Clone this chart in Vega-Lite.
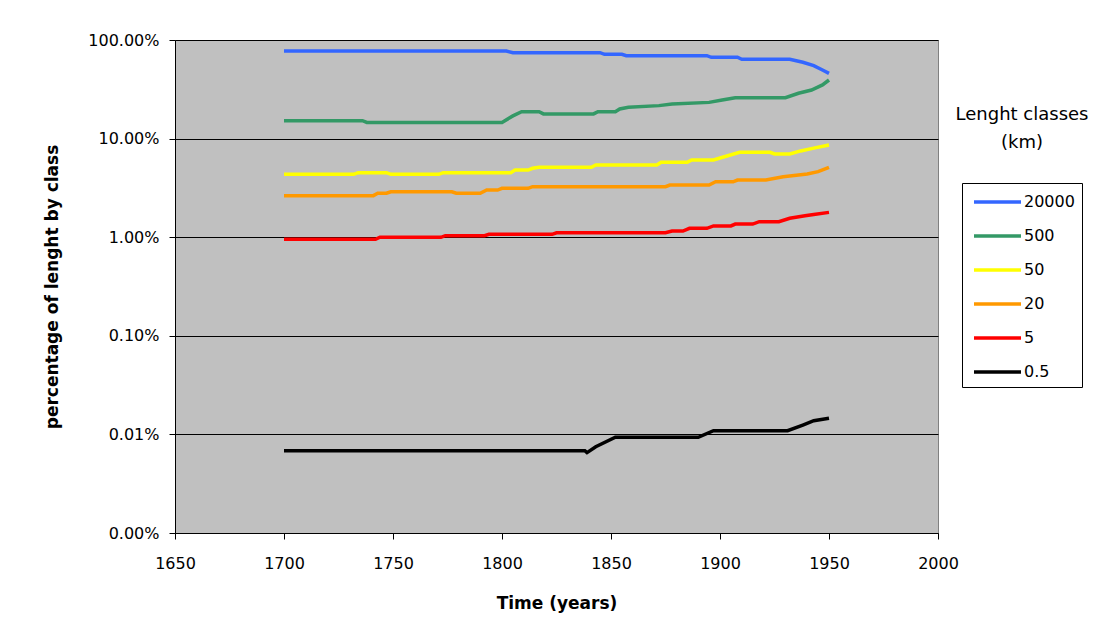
{
  "$schema": "https://vega.github.io/schema/vega-lite/v6.json",
  "width": 763,
  "height": 493,
  "autosize": {"type": "none"},
  "padding": {"left": 175, "top": 40, "right": 178, "bottom": 108},
  "background": "white",
  "title": {"text": ["Lenght classes", "(km)"], "orient": "top", "anchor": "start", "frame": "group", "align": "center", "baseline": "top", "dx": 847, "dy": 120, "offset": 0, "fontSize": 18, "fontWeight": "normal", "font": "DejaVu Sans", "lineHeight": 28, "color": "black"},
  "config": {
    "view": {"fill": "#C0C0C0", "stroke": "#808080", "strokeWidth": 1},
    "axis": {"domainColor": "black", "domainWidth": 1, "tickColor": "black", "tickSize": 6, "labelFont": "DejaVu Sans", "labelFontSize": 16, "labelColor": "black", "titleFont": "DejaVu Sans", "titleFontSize": 17, "titleFontWeight": "bold", "titleColor": "black"}
  },
  "data": {"values": [
    {"c": "20000", "year": 1700, "v": 0.773},
    {"c": "20000", "year": 1802, "v": 0.773},
    {"c": "20000", "year": 1805, "v": 0.743},
    {"c": "20000", "year": 1845, "v": 0.743},
    {"c": "20000", "year": 1847, "v": 0.716},
    {"c": "20000", "year": 1855, "v": 0.716},
    {"c": "20000", "year": 1857, "v": 0.693},
    {"c": "20000", "year": 1894, "v": 0.693},
    {"c": "20000", "year": 1896, "v": 0.668},
    {"c": "20000", "year": 1908, "v": 0.668},
    {"c": "20000", "year": 1910, "v": 0.637},
    {"c": "20000", "year": 1932, "v": 0.637},
    {"c": "20000", "year": 1938, "v": 0.594},
    {"c": "20000", "year": 1943, "v": 0.549},
    {"c": "20000", "year": 1947, "v": 0.496},
    {"c": "20000", "year": 1950, "v": 0.459},
    {"c": "500", "year": 1700, "v": 0.152},
    {"c": "500", "year": 1736, "v": 0.152},
    {"c": "500", "year": 1738, "v": 0.146},
    {"c": "500", "year": 1800, "v": 0.146},
    {"c": "500", "year": 1805, "v": 0.170},
    {"c": "500", "year": 1809, "v": 0.1875},
    {"c": "500", "year": 1817, "v": 0.1875},
    {"c": "500", "year": 1819, "v": 0.178},
    {"c": "500", "year": 1842, "v": 0.178},
    {"c": "500", "year": 1844, "v": 0.1875},
    {"c": "500", "year": 1852, "v": 0.1875},
    {"c": "500", "year": 1854, "v": 0.200},
    {"c": "500", "year": 1858, "v": 0.208},
    {"c": "500", "year": 1872, "v": 0.216},
    {"c": "500", "year": 1878, "v": 0.224},
    {"c": "500", "year": 1895, "v": 0.233},
    {"c": "500", "year": 1901, "v": 0.246},
    {"c": "500", "year": 1907, "v": 0.260},
    {"c": "500", "year": 1930, "v": 0.260},
    {"c": "500", "year": 1936, "v": 0.288},
    {"c": "500", "year": 1942, "v": 0.311},
    {"c": "500", "year": 1947, "v": 0.350},
    {"c": "500", "year": 1950, "v": 0.393},
    {"c": "50", "year": 1700, "v": 0.0434},
    {"c": "50", "year": 1732, "v": 0.0434},
    {"c": "50", "year": 1734, "v": 0.0451},
    {"c": "50", "year": 1747, "v": 0.0451},
    {"c": "50", "year": 1749, "v": 0.0434},
    {"c": "50", "year": 1771, "v": 0.0434},
    {"c": "50", "year": 1773, "v": 0.0451},
    {"c": "50", "year": 1804, "v": 0.0451},
    {"c": "50", "year": 1806, "v": 0.048},
    {"c": "50", "year": 1812, "v": 0.048},
    {"c": "50", "year": 1814, "v": 0.050},
    {"c": "50", "year": 1817, "v": 0.0512},
    {"c": "50", "year": 1841, "v": 0.0512},
    {"c": "50", "year": 1843, "v": 0.054},
    {"c": "50", "year": 1871, "v": 0.054},
    {"c": "50", "year": 1873, "v": 0.0575},
    {"c": "50", "year": 1885, "v": 0.0575},
    {"c": "50", "year": 1887, "v": 0.0607},
    {"c": "50", "year": 1897, "v": 0.0607},
    {"c": "50", "year": 1902, "v": 0.0655},
    {"c": "50", "year": 1909, "v": 0.0726},
    {"c": "50", "year": 1923, "v": 0.0726},
    {"c": "50", "year": 1925, "v": 0.0698},
    {"c": "50", "year": 1932, "v": 0.0698},
    {"c": "50", "year": 1937, "v": 0.075},
    {"c": "50", "year": 1943, "v": 0.080},
    {"c": "50", "year": 1950, "v": 0.0861},
    {"c": "20", "year": 1700, "v": 0.0264},
    {"c": "20", "year": 1741, "v": 0.0264},
    {"c": "20", "year": 1743, "v": 0.0279},
    {"c": "20", "year": 1747, "v": 0.0279},
    {"c": "20", "year": 1749, "v": 0.0289},
    {"c": "20", "year": 1777, "v": 0.0289},
    {"c": "20", "year": 1779, "v": 0.0279},
    {"c": "20", "year": 1790, "v": 0.0279},
    {"c": "20", "year": 1793, "v": 0.0301},
    {"c": "20", "year": 1798, "v": 0.0301},
    {"c": "20", "year": 1800, "v": 0.0313},
    {"c": "20", "year": 1812, "v": 0.0313},
    {"c": "20", "year": 1814, "v": 0.0325},
    {"c": "20", "year": 1875, "v": 0.0325},
    {"c": "20", "year": 1877, "v": 0.0338},
    {"c": "20", "year": 1895, "v": 0.0338},
    {"c": "20", "year": 1898, "v": 0.0365},
    {"c": "20", "year": 1906, "v": 0.0365},
    {"c": "20", "year": 1908, "v": 0.038},
    {"c": "20", "year": 1921, "v": 0.038},
    {"c": "20", "year": 1929, "v": 0.0411},
    {"c": "20", "year": 1940, "v": 0.0438},
    {"c": "20", "year": 1945, "v": 0.0462},
    {"c": "20", "year": 1950, "v": 0.0512},
    {"c": "5", "year": 1700, "v": 0.00952},
    {"c": "5", "year": 1742, "v": 0.00952},
    {"c": "5", "year": 1744, "v": 0.00998},
    {"c": "5", "year": 1772, "v": 0.00998},
    {"c": "5", "year": 1774, "v": 0.01036},
    {"c": "5", "year": 1792, "v": 0.01036},
    {"c": "5", "year": 1794, "v": 0.0107},
    {"c": "5", "year": 1823, "v": 0.0107},
    {"c": "5", "year": 1825, "v": 0.0111},
    {"c": "5", "year": 1875, "v": 0.0111},
    {"c": "5", "year": 1878, "v": 0.01155},
    {"c": "5", "year": 1883, "v": 0.01155},
    {"c": "5", "year": 1886, "v": 0.0123},
    {"c": "5", "year": 1894, "v": 0.0123},
    {"c": "5", "year": 1897, "v": 0.0130},
    {"c": "5", "year": 1905, "v": 0.0130},
    {"c": "5", "year": 1907, "v": 0.0136},
    {"c": "5", "year": 1915, "v": 0.0136},
    {"c": "5", "year": 1918, "v": 0.01436},
    {"c": "5", "year": 1927, "v": 0.01436},
    {"c": "5", "year": 1932, "v": 0.01555},
    {"c": "5", "year": 1939, "v": 0.0165},
    {"c": "5", "year": 1943, "v": 0.0170},
    {"c": "5", "year": 1950, "v": 0.01786},
    {"c": "0.5", "year": 1700, "v": 0.0000684},
    {"c": "0.5", "year": 1838, "v": 0.0000684},
    {"c": "0.5", "year": 1839, "v": 0.0000653},
    {"c": "0.5", "year": 1843, "v": 0.000075},
    {"c": "0.5", "year": 1852, "v": 0.0000935},
    {"c": "0.5", "year": 1890, "v": 0.0000935},
    {"c": "0.5", "year": 1897, "v": 0.000109},
    {"c": "0.5", "year": 1931, "v": 0.000109},
    {"c": "0.5", "year": 1938, "v": 0.0001245},
    {"c": "0.5", "year": 1943, "v": 0.0001377},
    {"c": "0.5", "year": 1950, "v": 0.0001455}
  ]},
  "mark": {"type": "line", "strokeWidth": 3.5, "interpolate": "linear", "clip": true},
  "encoding": {
    "x": {"field": "year", "type": "quantitative",
      "scale": {"domain": [1650, 2000], "nice": false, "zero": false},
      "axis": {"values": [1650, 1700, 1750, 1800, 1850, 1900, 1950, 2000], "format": "d", "title": "Time (years)", "grid": false, "labelPadding": 16, "titlePadding": 24, "labelFlush": false}},
    "y": {"field": "v", "type": "quantitative",
      "scale": {"type": "log", "domain": [0.00001, 1], "nice": false},
      "axis": {"values": [0.00001, 0.0001, 0.001, 0.01, 0.1, 1], "format": ".2%", "title": "percentage of lenght by class", "grid": true, "gridColor": "black", "gridWidth": 1, "gridOpacity": 1, "labelPadding": 10, "titlePadding": 26, "labelFlush": false}},
    "color": {"field": "c", "type": "nominal",
      "scale": {"domain": ["20000", "500", "50", "20", "5", "0.5"], "range": ["#3366FF", "#339966", "#FFFF00", "#FF9900", "#FF0000", "#000000"]},
      "legend": {"orient": "none", "legendX": 787, "legendY": 143, "title": null, "symbolType": "M-0.7,0H4", "symbolSize": 400, "symbolStrokeWidth": 3.5, "labelFontSize": 16, "labelFont": "DejaVu Sans", "labelColor": "black", "labelOffset": 31, "rowPadding": 14, "padding": 7, "strokeColor": "black", "fillColor": "white"}}
  }
}
